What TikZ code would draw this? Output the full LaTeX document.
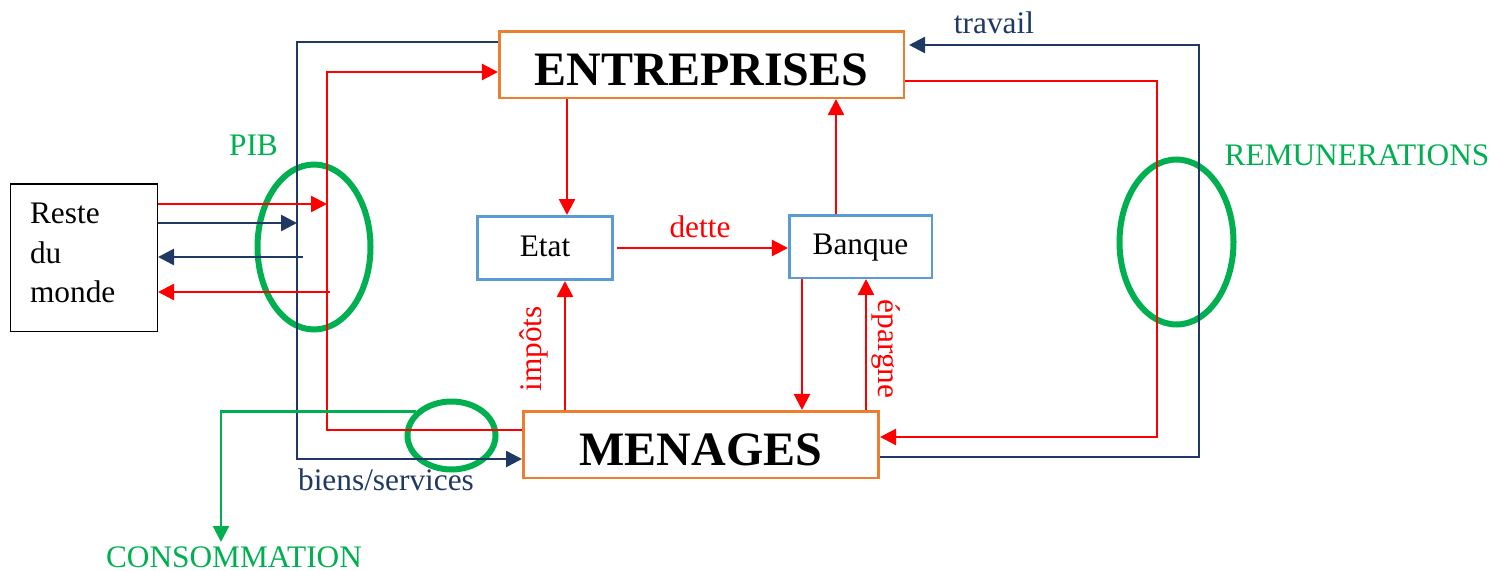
\documentclass[tikz,border=0pt]{standalone}
\usepackage{fontspec}
\setmainfont{Liberation Serif}
\usetikzlibrary{arrows.meta,shapes.geometric}
\definecolor{cred}{RGB}{255,0,0}
\definecolor{cnavy}{RGB}{31,56,100}
\definecolor{cgreen}{RGB}{0,176,80}
\definecolor{corange}{RGB}{237,125,49}
\definecolor{cblue}{RGB}{91,155,213}
\begin{document}
\begin{tikzpicture}[x=0.75pt,y=-0.75pt,
  tip/.style={-{Triangle[length=12pt,width=12pt]}},
  redline/.style={draw=cred,line width=1.8pt},
  navyline/.style={draw=cnavy,line width=2pt},
  greenline/.style={draw=cgreen,line width=1.7pt},
  bigbox/.style={draw=corange,line width=1.9pt,inner sep=0pt,font=\fontsize{36}{40}\selectfont\bfseries,text height=30.75pt,text depth=0pt},
  smallbox/.style={draw=cblue,line width=1.9pt,inner sep=0pt,font=\fontsize{23.5}{28}\selectfont,text height=16.5pt,text depth=4.5pt},
  ring/.style={draw=cgreen,line width=4.5pt,ellipse,inner sep=0pt},
  lbl/.style={inner sep=0pt,anchor=base,font=\fontsize{23.5}{28}\selectfont},
  rlbl/.style={inner sep=0pt,font=\fontsize{23.5}{28}\selectfont,text=cred},
]
\useasboundingbox (0,0) rectangle (1507,571);

% rings (drawn first, lines cross over them)
\node[ring,minimum width=84.75pt,minimum height=123.75pt] (pibring) at (314,247) {};
\node[ring,minimum width=85.5pt,minimum height=123.75pt] (remring) at (1176.5,242) {};
\node[ring,minimum width=66pt,minimum height=51pt] (consring) at (451.5,435.5) {};

% boxes
\node[bigbox,minimum width=303.4pt,minimum height=49.9pt] (E) at (701.5,64.5) {ENTREPRISES};
\node[bigbox,minimum width=266.6pt,minimum height=49.9pt] (M) at (701,444.5) {MENAGES};
\node[smallbox,minimum width=101.6pt,minimum height=47.6pt] (Et) at (545,248) {Etat};
\node[smallbox,minimum width=106.9pt,minimum height=46.9pt] (B) at (860.5,246.5) {Banque};
\node[draw=black,line width=1.1pt,minimum width=109.9pt,minimum height=110.6pt,inner xsep=14.5pt,inner ysep=0pt,text width=80.9pt,align=left,font=\fontsize{23.5}{29.6}\selectfont] (R) at (84,257.5) {Reste\\du\\monde\rule[-7pt]{0pt}{0pt}};

% helper coordinates
\coordinate (L1) at (297,42);
\coordinate (L2) at (297,459);
\coordinate (R1) at (327,72);
\coordinate (R2) at (327,430);
\coordinate (T1) at (1199,45);
\coordinate (T2) at (1199,457);
\coordinate (S1) at (1157,81);
\coordinate (S2) at (1157,437);
\coordinate (a567) at (567,0);
\coordinate (a836) at (836,0);
\coordinate (a565) at (565,0);
\coordinate (a802) at (802,0);
\coordinate (a866) at (866,0);
\coordinate (w1) at (327,204);
\coordinate (w2) at (297,223);
\coordinate (w3) at (303,257);
\coordinate (w4) at (330,292);
\coordinate (g1) at (221,0);
\coordinate (g2) at (221,542);

% outer loops
\draw[navyline,tip] (E.west |- L1) -- (L1) -- (L2) -- (M.west |- L2);
\draw[redline,tip] (M.west |- R2) -- (R2) -- (R1) -- (E.west |- R1);
\draw[navyline,tip] (M.east |- T2) -- (T2) -- (T1) -- ([xshift=3pt]E.east |- T1);
\draw[redline,tip] (E.east |- S1) -- (S1) -- (S2) -- (M.east |- S2);

% inner flows
\draw[redline,tip] (E.south -| a567) -- (Et.north -| a567);
\draw[redline,tip] (B.north -| a836) -- (E.south -| a836);
\draw[redline,tip] ([xshift=2.5pt]Et.east) -- (B.west |- Et.east);
\draw[redline,tip] (M.north -| a565) -- (Et.south -| a565);
\draw[redline,tip] (B.south -| a802) -- (M.north -| a802);
\draw[redline,tip] (M.north -| a866) -- (B.south -| a866);

% rest of the world
\draw[redline,tip] (R.east |- w1) -- (w1);
\draw[navyline,tip] (R.east |- w2) -- (w2);
\draw[navyline,tip] (w3) -- (R.east |- w3);
\draw[redline,tip] (w4) -- (R.east |- w4);

% consumption pointer
\draw[greenline,tip] (consring.146) -- (consring.146 -| g1) -- (g2);

% labels
\node[lbl,text=cred] (dette) at (700,237) {dette};
\node[lbl,text=cnavy] (travail) at (994,33) {travail};
\node[lbl,text=cnavy] (biens) at (386,490) {biens/services};
\node[lbl,text=cgreen] (pib) at (253.5,155) {PIB};
\node[lbl,text=cgreen] (remu) at (1357,165) {REMUNERATIONS};
\node[lbl,text=cgreen] (conso) at (234,567) {CONSOMMATION};
\node[rlbl,rotate=90] (impots) at (533.5,349) {impôts};
\node[rlbl,rotate=-90] (epargne) at (886,349) {épargne};
\end{tikzpicture}
\end{document}
